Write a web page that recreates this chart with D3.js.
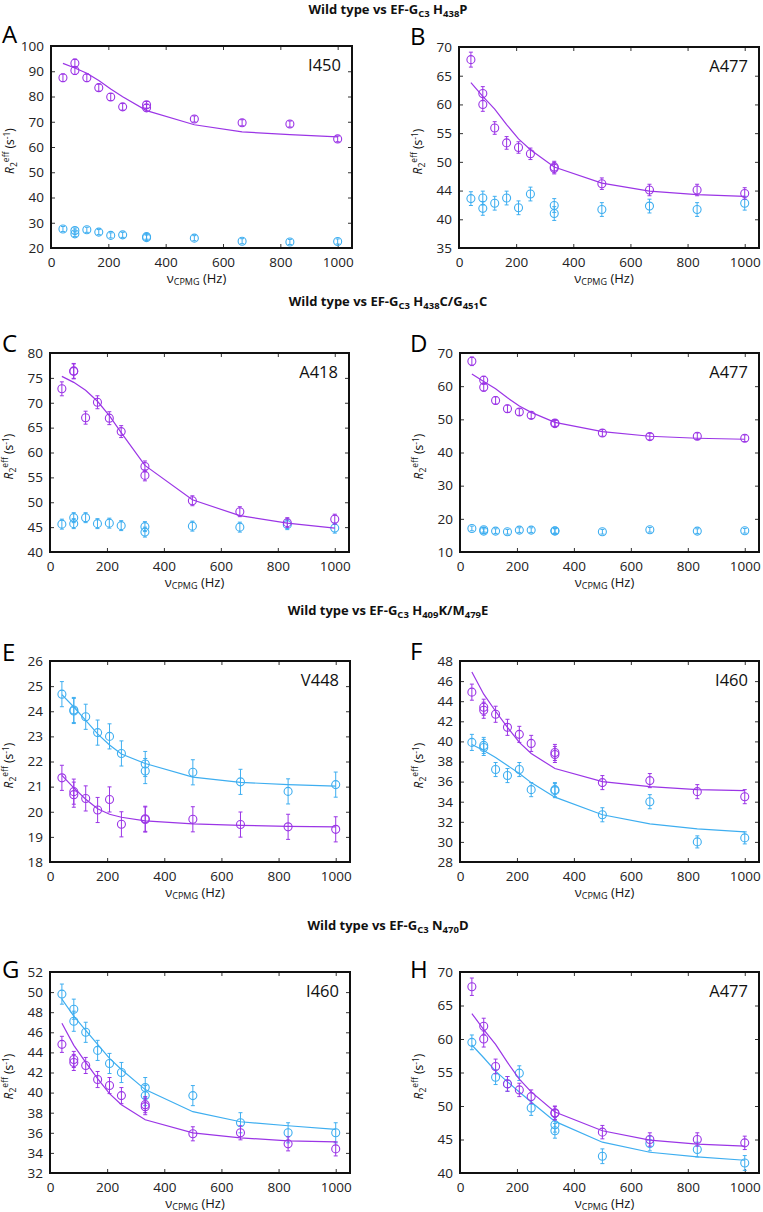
<!DOCTYPE html>
<html><head><meta charset="utf-8">
<script src="https://cdn.jsdelivr.net/npm/d3@7"></script>
<style>
body{margin:0;background:#fff;}
svg{display:block;}
text{font-family:"Open Sans","Liberation Sans",sans-serif;}
</style></head>
<body>
<svg id="chart" width="763" height="1212"></svg>
<script>
// ---------- shared x values (νCPMG, Hz) ----------
const xPts = [41.67, 83.33, 83.33, 125, 166.67, 208.33, 250, 333.33, 333.33, 500, 666.67, 833.33, 1000];
const xFit = [41.67, 83.33, 125, 166.67, 208.33, 250, 333.33, 500, 666.67, 833.33, 1000];
const xPtsH = [41.67, 125, 166.67, 208.33, 250, 333.33, 333.33, 500, 666.67, 833.33, 1000];
const xTicks = [0, 200, 400, 600, 800, 1000];

// ---------- Panel A (I450) ----------
const aPurple    = [87.4, 93.2, 90.3, 87.4, 83.5, 79.8, 75.9, 76.7, 75.5, 71.1, 69.6, 69.1, 63.2];
const aPurpleErr = [1.5, 1.6, 1.6, 1.5, 1.4, 1.4, 1.3, 1.3, 1.3, 1.2, 1.2, 1.2, 1.1];
const aPurpleFit = [93.1, 91.3, 89.2, 86.3, 83.0, 79.9, 74.4, 68.8, 66.0, 64.9, 64.0];
const aCyan      = [27.5, 26.9, 25.6, 27.2, 26.3, 25.0, 25.2, 24.5, 24.1, 23.9, 22.7, 22.4, 22.6];
const aCyanErr   = [1.0, 1.0, 1.0, 1.0, 1.0, 1.0, 1.0, 1.0, 1.0, 1.0, 1.0, 1.0, 1.0];
const aTicks = [20, 30, 40, 50, 60, 70, 80, 90, 100];

// ---------- Panel B (A477) ----------
const bPurple    = [67.8, 61.9, 60.0, 55.9, 53.3, 52.5, 51.4, 49.1, 48.9, 46.2, 45.1, 45.1, 44.5];
const bPurpleErr = [1.3, 1.2, 1.2, 1.1, 1.1, 1.0, 1.0, 1.0, 1.0, 1.0, 1.0, 1.0, 1.0];
const bPurpleFit = [63.8, 61.4, 59.2, 56.5, 54.0, 52.1, 49.1, 46.3, 44.9, 44.3, 44.0];
const bCyan      = [43.6, 43.7, 41.9, 42.8, 43.7, 42.0, 44.4, 42.4, 41.0, 41.7, 42.3, 41.7, 42.8];
const bCyanErr   = [1.2, 1.2, 1.2, 1.2, 1.2, 1.2, 1.2, 1.2, 1.2, 1.2, 1.2, 1.2, 1.2];
const bTicks = [35, 40, 45, 50, 55, 60, 65, 70];
const bTickLabels = ["35", "40", "44", "50", "55", "60", "65", "70"];

// ---------- Panel C (A418) ----------
const cPurple    = [72.8, 76.4, 76.3, 67.0, 70.1, 66.9, 64.2, 57.2, 55.4, 50.3, 48.1, 45.9, 46.6];
const cPurpleErr = [1.4, 1.5, 1.5, 1.3, 1.3, 1.3, 1.2, 1.1, 1.1, 1.0, 1.0, 1.0, 1.0];
const cPurpleFit = [75.3, 74.1, 72.5, 70.3, 67.4, 64.0, 57.4, 50.5, 47.3, 45.8, 44.8];
const cCyan      = [45.6, 46.9, 45.7, 46.9, 45.7, 45.8, 45.3, 45.1, 44.0, 45.2, 45.0, 45.5, 44.8];
const cCyanErr   = [1.0, 1.0, 1.0, 1.0, 1.0, 1.0, 1.0, 1.0, 1.0, 1.0, 1.0, 1.0, 1.0];
const cTicks = [40, 45, 50, 55, 60, 65, 70, 75, 80];

// ---------- Panel D (A477) ----------
const dPurple    = [67.5, 61.8, 59.7, 55.7, 53.2, 52.2, 51.2, 48.9, 48.7, 45.9, 44.8, 44.9, 44.3];
const dPurpleErr = [1.3, 1.2, 1.2, 1.1, 1.1, 1.0, 1.0, 1.0, 1.0, 1.0, 1.0, 1.0, 1.0];
const dPurpleFit = [63.7, 61.4, 59.2, 56.5, 54.0, 52.1, 49.1, 46.3, 44.9, 44.3, 44.0];
const dCyan      = [17.1, 16.7, 16.3, 16.3, 16.1, 16.6, 16.6, 16.4, 16.3, 16.1, 16.7, 16.3, 16.4];
const dCyanErr   = [0.7, 0.7, 0.7, 0.7, 0.7, 0.7, 0.7, 0.7, 0.7, 0.7, 0.7, 0.7, 0.7];
const dTicks = [10, 20, 30, 40, 50, 60, 70];

// ---------- Panel E (V448) ----------
const eCyan      = [24.68, 24.05, 24.01, 23.78, 23.15, 23.0, 22.32, 21.9, 21.62, 21.57, 21.19, 20.81, 21.08];
const eCyanErr   = [0.5, 0.5, 0.5, 0.5, 0.5, 0.5, 0.5, 0.5, 0.5, 0.5, 0.5, 0.5, 0.5];
const eCyanFit   = [24.66, 24.17, 23.64, 23.1, 22.66, 22.3, 21.92, 21.38, 21.17, 21.08, 21.02];
const ePurple    = [21.35, 20.8, 20.68, 20.53, 20.07, 20.49, 19.5, 19.72, 19.69, 19.7, 19.49, 19.4, 19.3];
const ePurpleErr = [0.5, 0.5, 0.5, 0.5, 0.5, 0.5, 0.5, 0.5, 0.5, 0.5, 0.5, 0.5, 0.5];
const ePurpleFit = [21.45, 20.95, 20.5, 20.12, 19.9, 19.78, 19.64, 19.52, 19.46, 19.42, 19.4];
const eTicks = [18, 19, 20, 21, 22, 23, 24, 25, 26];

// ---------- Panel F (I460) ----------
const fPurple    = [44.9, 43.4, 43.1, 42.7, 41.4, 40.7, 39.8, 38.9, 38.7, 35.9, 36.1, 35.0, 34.5];
const fPurpleErr = [0.8, 0.8, 0.8, 0.8, 0.8, 0.8, 0.8, 0.8, 0.8, 0.7, 0.7, 0.7, 0.7];
const fPurpleFit = [46.9, 44.7, 43.0, 41.4, 39.9, 38.8, 37.3, 36.0, 35.5, 35.2, 35.1];
const fCyan      = [39.9, 39.6, 39.4, 37.2, 36.6, 37.2, 35.2, 35.2, 35.1, 32.7, 34.0, 30.0, 30.4];
const fCyanErr   = [0.8, 0.8, 0.8, 0.7, 0.7, 0.7, 0.7, 0.7, 0.7, 0.7, 0.7, 0.6, 0.6];
const fCyanFit   = [39.7, 39.1, 38.4, 37.6, 36.8, 35.9, 34.45, 32.7, 31.8, 31.3, 31.0];
const fTicks = [28, 30, 32, 34, 36, 38, 40, 42, 44, 46, 48];

// ---------- Panel G (I460) ----------
const gCyan      = [49.8, 48.3, 47.1, 46.0, 44.2, 42.9, 42.0, 40.5, 39.7, 39.7, 37.0, 36.0, 36.0];
const gCyanErr   = [1.0, 1.0, 1.0, 1.0, 1.0, 1.0, 1.0, 1.0, 1.0, 1.0, 1.0, 1.0, 1.0];
const gCyanFit   = [49.3, 47.6, 46.2, 44.8, 43.4, 42.3, 40.3, 38.1, 37.1, 36.7, 36.35];
const gPurple    = [44.8, 43.3, 43.0, 42.7, 41.3, 40.7, 39.7, 38.8, 38.6, 35.9, 36.0, 34.9, 34.4];
const gPurpleErr = [0.8, 0.8, 0.8, 0.8, 0.8, 0.8, 0.8, 0.8, 0.8, 0.7, 0.7, 0.7, 0.7];
const gPurpleFit = [46.9, 44.7, 43.0, 41.4, 39.9, 38.8, 37.3, 36.0, 35.5, 35.2, 35.1];
const gTicks = [32, 34, 36, 38, 40, 42, 44, 46, 48, 50, 52];

// ---------- Panel H (A477) ----------
const hPurple    = [67.8, 61.9, 60.0, 55.9, 53.3, 52.4, 51.4, 49.0, 48.9, 46.1, 45.0, 45.0, 44.5];
const hPurpleErr = [1.3, 1.2, 1.2, 1.1, 1.1, 1.0, 1.0, 1.0, 1.0, 1.0, 1.0, 1.0, 1.0];
const hPurpleFit = [63.8, 61.4, 59.2, 56.5, 54.0, 52.1, 49.1, 46.3, 44.9, 44.3, 44.0];
const hCyan      = [59.5, 54.3, 53.3, 54.9, 49.7, 47.2, 46.3, 42.5, 44.4, 43.5, 41.5];
const hCyanErr   = [1.1, 1.1, 1.1, 1.1, 1.1, 1.1, 1.1, 1.1, 1.1, 1.1, 1.1];
const hCyanFit   = [59.1, 57.2, 55.2, 53.6, 52.1, 50.6, 47.7, 44.6, 43.1, 42.4, 41.9];
const hTicks = [40, 45, 50, 55, 60, 65, 70];

// ---------- Titles ----------
const titles = [
  [["Wild type vs EF-G", 0], ["C3", 1], [" H", 0], ["438", 1], ["P", 0]],
  [["Wild type vs EF-G", 0], ["C3", 1], [" H", 0], ["438", 1], ["C/G", 0], ["451", 1], ["C", 0]],
  [["Wild type vs EF-G", 0], ["C3", 1], [" H", 0], ["409", 1], ["K/M", 0], ["479", 1], ["E", 0]],
  [["Wild type vs EF-G", 0], ["C3", 1], [" N", 0], ["470", 1], ["D", 0]]
];

const PURPLE = "#9b35e6";
const CYAN = "#3eaef0";

const svg = d3.select("#chart");
svg.append("rect").attr("width", 763).attr("height", 1212).attr("fill", "#fff");

// Titles
const titleY = [14, 306, 615, 930];
titles.forEach((parts, i) => {
  const t = svg.append("text").attr("x", 388).attr("y", titleY[i])
    .attr("text-anchor", "middle").attr("font-weight", "bold").attr("font-size", 13).attr("fill", "#111");
  let sub = 0;
  parts.forEach(([s, isSub]) => {
    const ts = t.append("tspan").text(s);
    if (isSub && !sub) { ts.attr("dy", 2.5).attr("font-size", 9.5); sub = 1; }
    else if (isSub && sub) { ts.attr("font-size", 9.5); }
    else if (!isSub && sub) { ts.attr("dy", -2.5); sub = 0; }
  });
});

function panel(cfg) {
  const g = svg.append("g");
  const x = d3.scaleLinear().domain([0, 1050]).range([cfg.left, cfg.right]);
  const y = d3.scaleLinear().domain(cfg.yDomain).range([cfg.bottom, cfg.top]);
  const tl = 4;

  // inward ticks via axes
  const labelFor = cfg.yLabels ? (d, i) => cfg.yLabels[i] : d3.format("d");
  const yl = g.append("g").attr("transform", `translate(${cfg.left},0)`)
    .call(d3.axisLeft(y).tickValues(cfg.yTicks).tickFormat(labelFor).tickSizeInner(-tl).tickSizeOuter(0).tickPadding(7));
  const yr = g.append("g").attr("transform", `translate(${cfg.right},0)`)
    .call(d3.axisRight(y).tickValues(cfg.yTicks).tickFormat("").tickSizeInner(-tl).tickSizeOuter(0));
  const xb = g.append("g").attr("transform", `translate(0,${cfg.bottom})`)
    .call(d3.axisBottom(x).tickValues(xTicks).tickFormat(d3.format("d")).tickSizeInner(-tl).tickSizeOuter(0).tickPadding(9));
  const xt = g.append("g").attr("transform", `translate(0,${cfg.top})`)
    .call(d3.axisTop(x).tickValues(xTicks).tickFormat("").tickSizeInner(-tl).tickSizeOuter(0));
  [yl, yr, xb, xt].forEach(a => {
    a.select(".domain").remove();
    a.selectAll(".tick line").attr("stroke", "#333").attr("stroke-width", 1);
    a.selectAll(".tick text").attr("font-size", 13.5).attr("fill", "#222")
      .attr("font-family", "'Open Sans', sans-serif");
  });

  // series
  cfg.series.forEach(s => {
    const xs = s.x || xPts;
    if (s.fit) {
      g.append("path").datum(xFit.map((v, i) => [v, s.fit[i]]))
        .attr("fill", "none").attr("stroke", s.color).attr("stroke-width", 1.2)
        .attr("d", d3.line().x(d => x(d[0])).y(d => y(d[1])));
    }
    const pts = xs.map((v, i) => ({ x: v, y: s.y[i], e: s.err[i] }));
    const pg = g.append("g").attr("stroke", s.color).attr("fill", "none").attr("stroke-width", 1);
    pts.forEach(p => {
      const cx = x(p.x), y1 = y(p.y - p.e), y2 = y(p.y + p.e);
      pg.append("line").attr("x1", cx).attr("x2", cx).attr("y1", y1).attr("y2", y2);
      pg.append("line").attr("x1", cx - 2).attr("x2", cx + 2).attr("y1", y1).attr("y2", y1);
      pg.append("line").attr("x1", cx - 2).attr("x2", cx + 2).attr("y1", y2).attr("y2", y2);
      pg.append("circle").attr("cx", cx).attr("cy", y(p.y)).attr("r", 4).attr("stroke-width", 1.1);
    });
  });

  // frame
  g.append("rect").attr("x", cfg.left).attr("y", cfg.top)
    .attr("width", cfg.right - cfg.left).attr("height", cfg.bottom - cfg.top)
    .attr("fill", "none").attr("stroke", "#111").attr("stroke-width", 2);

  // residue label
  g.append("text").attr("x", cfg.right - 11).attr("y", cfg.top + 25).attr("text-anchor", "end")
    .attr("font-size", 16.5).attr("fill", "#111").text(cfg.residue);

  // panel letter
  g.append("text").attr("x", cfg.letterX).attr("y", cfg.letterY)
    .attr("font-family", "'Liberation Sans', Arial, sans-serif").attr("font-size", 24).attr("fill", "#000")
    .text(cfg.letter);

  // y-axis label
  const ylab = g.append("text")
    .attr("transform", `translate(${cfg.left - 37},${(cfg.top + cfg.bottom) / 2 + 4}) rotate(-90)`)
    .attr("text-anchor", "middle").attr("font-size", 12).attr("fill", "#111");
  ylab.append("tspan").attr("font-style", "italic").text("R");
  ylab.append("tspan").attr("font-size", 8.5).attr("dy", 3).text("2");
  ylab.append("tspan").attr("font-size", 8.5).attr("dy", -8).text("eff");
  ylab.append("tspan").attr("dy", 5).text(" (s");
  ylab.append("tspan").attr("font-size", 8.5).attr("dy", -4).text("-1");
  ylab.append("tspan").attr("dy", 4).text(")");

  // x-axis label
  const xlab = g.append("text").attr("x", (cfg.left + cfg.right) / 2 - 5).attr("y", cfg.bottom + 35)
    .attr("text-anchor", "middle").attr("font-size", 13).attr("fill", "#111");
  xlab.append("tspan").text("ν");
  xlab.append("tspan").attr("font-size", 9).attr("dy", 2).text("CPMG");
  xlab.append("tspan").attr("dy", -2).text(" (Hz)");
}

panel({ letter: "A", letterX: 2, letterY: 43, residue: "I450", left: 51, right: 352, top: 46, bottom: 248,
  yDomain: [20, 100], yTicks: aTicks,
  series: [{ y: aCyan, err: aCyanErr, color: CYAN }, { y: aPurple, err: aPurpleErr, fit: aPurpleFit, color: PURPLE }] });
panel({ letter: "B", letterX: 410, letterY: 44.5, residue: "A477", left: 459, right: 759, top: 47, bottom: 248,
  yDomain: [35, 70], yTicks: bTicks, yLabels: bTickLabels,
  series: [{ y: bCyan, err: bCyanErr, color: CYAN }, { y: bPurple, err: bPurpleErr, fit: bPurpleFit, color: PURPLE }] });
panel({ letter: "C", letterX: 2, letterY: 352, residue: "A418", left: 50, right: 349, top: 353, bottom: 552,
  yDomain: [40, 80], yTicks: cTicks,
  series: [{ y: cCyan, err: cCyanErr, color: CYAN }, { y: cPurple, err: cPurpleErr, fit: cPurpleFit, color: PURPLE }] });
panel({ letter: "D", letterX: 410, letterY: 352, residue: "A477", left: 460, right: 759, top: 353, bottom: 552,
  yDomain: [10, 70], yTicks: dTicks,
  series: [{ y: dCyan, err: dCyanErr, color: CYAN }, { y: dPurple, err: dPurpleErr, fit: dPurpleFit, color: PURPLE }] });
panel({ letter: "E", letterX: 2, letterY: 661, residue: "V448", left: 50, right: 350, top: 661, bottom: 862,
  yDomain: [18, 26], yTicks: eTicks,
  series: [{ y: eCyan, err: eCyanErr, fit: eCyanFit, color: CYAN }, { y: ePurple, err: ePurpleErr, fit: ePurpleFit, color: PURPLE }] });
panel({ letter: "F", letterX: 410, letterY: 660, residue: "I460", left: 460, right: 759, top: 661, bottom: 862,
  yDomain: [28, 48], yTicks: fTicks,
  series: [{ y: fCyan, err: fCyanErr, fit: fCyanFit, color: CYAN }, { y: fPurple, err: fPurpleErr, fit: fPurpleFit, color: PURPLE }] });
panel({ letter: "G", letterX: 2, letterY: 978, residue: "I460", left: 50, right: 350, top: 972, bottom: 1173,
  yDomain: [32, 52], yTicks: gTicks,
  series: [{ y: gCyan, err: gCyanErr, fit: gCyanFit, color: CYAN }, { y: gPurple, err: gPurpleErr, fit: gPurpleFit, color: PURPLE }] });
panel({ letter: "H", letterX: 410, letterY: 978, residue: "A477", left: 460, right: 759, top: 972, bottom: 1173,
  yDomain: [40, 70], yTicks: hTicks,
  series: [{ x: xPtsH, y: hCyan, err: hCyanErr, fit: hCyanFit, color: CYAN }, { y: hPurple, err: hPurpleErr, fit: hPurpleFit, color: PURPLE }] });
</script>
</body></html>
